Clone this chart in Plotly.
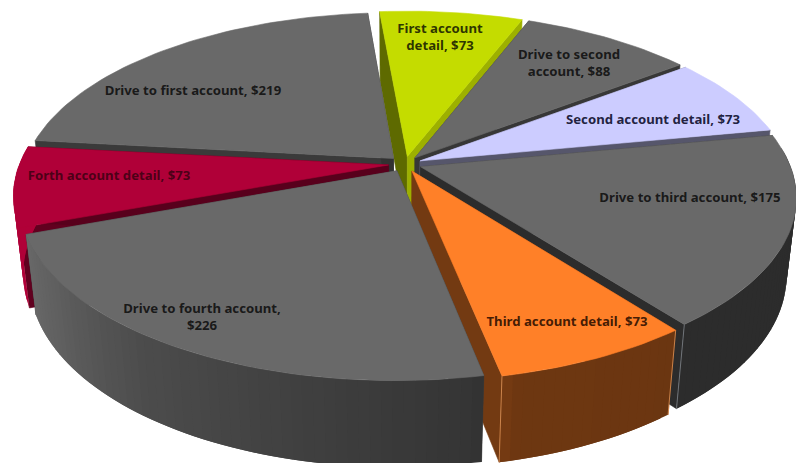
import numpy as np
import plotly.graph_objects as go

# Account-visit cost breakdown, clockwise from the top of the pie
categories = ["First account detail", "Drive to second account", "Second account detail",
              "Drive to third account", "Third account detail", "Drive to fourth account",
              "Forth account detail", "Drive to first account"]
values = [73, 88, 73, 175, 73, 226, 73, 219]
label_text = ["First account<br>detail, $73", "Drive to second<br>account, $88",
              "Second account detail, $73", "Drive to third account, $175",
              "Third account detail, $73", "Drive to fourth account,<br>$226",
              "Forth account detail, $73", "Drive to first account, $219"]

# Styling per slice
top_colors = ["#c4dc00", "#696969", "#ccccff", "#696969", "#ff8028", "#696969", "#b00038", "#696969"]
end_wall_shade = [0.80, 0.52, 0.42, 0.42, 0.45, 0.60, 0.50, 0.48]
start_wall_shade = [0.48, 0.55, 0.55, 0.55, 0.48, 0.55, 0.55, 0.55]
corner_highlight = [None, None, None, "#8a8f96", "#f0a060", None, None, None]
label_colors = ["rgba(25,30,0,0.9)", "rgba(15,15,15,0.9)", "rgba(10,10,40,0.9)", "rgba(15,15,15,0.9)",
                "rgba(45,15,0,0.9)", "rgba(15,15,15,0.9)", "rgba(50,0,15,0.8)", "rgba(15,15,15,0.9)"]
label_x = [440, 569, 653, 690, 567, 202, 109, 193]
label_y = [38, 64, 121, 199, 323, 318, 177, 92]

# Slices are painted back to front
draw_order = [0, 1, 7, 2, 3, 6, 4, 5]

# Projection of the pie onto the page
W, H_PAGE = 796, 463
CX, CY = 405, 164
RX, RY = 369, 172
THICK = 79
PERSP, PERSP_W = 0.168, 0.025
EXPLODE = 0.045
START_DEG = -5.0


def project(u, v, w):
    s = 1 / (1 - PERSP * v + PERSP_W * w)
    return CX + RX * u * s, CY + RY * v * s + THICK * w * s


def shade(hex_color, f):
    rgb = [int(hex_color[i:i + 2], 16) for i in (1, 3, 5)]
    return "rgb({},{},{})".format(*[int(round(c * f)) for c in rgb])


def polygon(fig, xs, ys, color, edge=0.6):
    fig.add_trace(go.Scatter(x=xs, y=ys, mode="lines", fill="toself", fillcolor=color,
                             line=dict(color=color, width=edge), hoverinfo="skip", showlegend=False))


def rim_shade(theta):
    # the rim gets lighter towards the left of the pie
    return np.interp(theta % 360, [0, 140, 166, 169, 190, 215, 235, 250, 360],
                     [0.42, 0.42, 0.43, 0.50, 0.60, 0.72, 0.90, 1.0, 1.0])


def draw_slice(fig, a0, a1, color, wall0, wall1, highlight):
    mid = np.radians((a0 + a1) / 2)
    ou, ov = EXPLODE * np.sin(mid), -EXPLODE * np.cos(mid)
    t = np.radians(np.linspace(a0, a1, int((a1 - a0) / 1.5) + 2))
    u, v = ou + np.sin(t), ov - np.cos(t)

    def wall(i, f):
        xa, ya = project(np.array([ou, u[i], u[i], ou]), np.array([ov, v[i], v[i], ov]),
                         np.array([0.0, 0.0, 1.0, 1.0]))
        polygon(fig, list(xa) + [xa[0]], list(ya) + [ya[0]], shade(color, f))

    wall(0, wall0)
    wall(-1, wall1)

    # outer rim as overlapping strips, so the shading varies without visible seams
    last = len(t) - 1
    for k in range(last):
        n = min(k + 2, last)
        if -np.cos((t[k] + t[n]) / 2) < -0.1:
            continue
        uu = np.array([u[k], u[n], u[n], u[k], u[k]])
        vv = np.array([v[k], v[n], v[n], v[k], v[k]])
        ww = np.array([0.0, 0.0, 1.0, 1.0, 0.0])
        xr, yr = project(uu, vv, ww)
        polygon(fig, xr, yr, shade(color, float(rim_shade(np.degrees(t[k])))), edge=0)

    if highlight:
        for i in (0, -1):
            xc, yc = project(np.array([u[i], u[i]]), np.array([v[i], v[i]]), np.array([0.0, 1.0]))
            fig.add_trace(go.Scatter(x=xc, y=yc, mode="lines", line=dict(color=highlight, width=0.7),
                                     hoverinfo="skip", showlegend=False))

    xt, yt = project(np.r_[ou, u, ou], np.r_[ov, v, ov], np.zeros(len(u) + 2))
    polygon(fig, xt, yt, color)


fig = go.Figure()
edges = START_DEG + 360 * np.cumsum([0] + values) / np.sum(values)

for i in draw_order:
    draw_slice(fig, edges[i], edges[i + 1], top_colors[i], start_wall_shade[i], end_wall_shade[i],
               corner_highlight[i])

fig.add_trace(go.Scatter(x=label_x, y=label_y, mode="text", text=label_text,
                         textposition="middle center", hoverinfo="skip", showlegend=False,
                         textfont=dict(family="Noto Sans", size=13.2, color=label_colors, weight="bold")))

fig.update_layout(width=W, height=H_PAGE, margin=dict(l=0, r=0, t=0, b=0),
                  paper_bgcolor="white", plot_bgcolor="white", showlegend=False,
                  xaxis=dict(range=[0, W], visible=False, fixedrange=True),
                  yaxis=dict(range=[H_PAGE, 0], visible=False, fixedrange=True))
fig.write_html("out.html", config={"displayModeBar": False})
